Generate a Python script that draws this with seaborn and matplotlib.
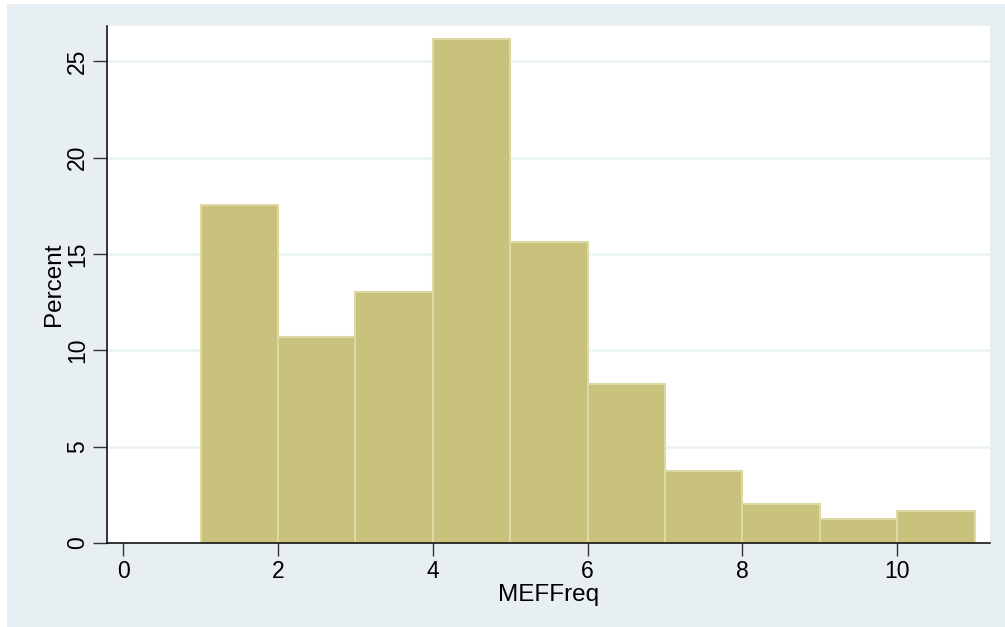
import numpy as np
import pandas as pd
import matplotlib
matplotlib.use("Agg")
import matplotlib.pyplot as plt
import seaborn as sns

# Data
bin_edges = [1, 2, 3, 4, 5, 6, 7, 8, 9, 10, 11]
percents = [17.54, 10.71, 13.03, 26.14, 15.62, 8.25, 3.75, 2.01, 1.23, 1.66]
x_ticks = [0, 2, 4, 6, 8, 10]
y_ticks = [0, 5, 10, 15, 20, 25]

bin_mid = [(a + b) / 2 for a, b in zip(bin_edges[:-1], bin_edges[1:])]
df = pd.DataFrame({"MEFFreq": bin_mid, "pct": percents})

sns.set_theme(style="white")
plt.rcParams["font.family"] = ["Liberation Sans", "DejaVu Sans"]
plt.rcParams["text.color"] = "black"
plt.rcParams["axes.labelcolor"] = "black"
plt.rcParams["xtick.color"] = "black"
plt.rcParams["ytick.color"] = "black"

W, H = 1005, 627
fig = plt.figure(figsize=(W / 100, H / 100), dpi=100)
fig.patch.set_facecolor("white")
# light outer panel
bg = plt.Rectangle((7 / W, -0.01), 1 - 7 / W + 0.01, 1 - 4 / H + 0.01,
                   transform=fig.transFigure,
                   facecolor="#E8EFF2", edgecolor="none", zorder=-10)
fig.patches.append(bg)

ax = fig.add_axes([107 / W, 1 - 543 / H, (990 - 107) / W, (543 - 26) / H])
ax.set_facecolor("white")

sns.histplot(data=df, x="MEFFreq", weights="pct", bins=bin_edges, ax=ax,
             color="#C9C27C", alpha=1.0, edgecolor="#DDD9A6", linewidth=1.5,
             zorder=3)

ax.set_xlim(-0.21, 11.2)
ax.set_ylim(0, 26.83)
ax.set_xticks(x_ticks)
ax.set_yticks(y_ticks)
ax.set_yticklabels([str(v) for v in y_ticks], rotation=90, va="center")

for v in y_ticks[1:]:
    ax.axhline(v, color="#EAF2F3", linewidth=1.8, zorder=1)

for s in ["top", "right"]:
    ax.spines[s].set_visible(False)
for s in ["left", "bottom"]:
    ax.spines[s].set_visible(True)
    ax.spines[s].set_color("black")
    ax.spines[s].set_linewidth(1.1)
    ax.spines[s].set_zorder(5)

ax.tick_params(axis="y", which="major", direction="out", length=10, width=1.0,
               color="#333333", labelsize=16.5, pad=3, left=True,
               labelcolor="black")
ax.tick_params(axis="x", which="major", direction="out", length=9, width=1.0,
               color="#333333", labelsize=16.5, pad=3, bottom=True,
               labelcolor="black")

ax.set_xlabel("MEFFreq", fontsize=17.5, labelpad=1)
ax.set_ylabel("Percent", fontsize=17.5, labelpad=1)

fig.savefig("out.png", dpi=100, facecolor=fig.get_facecolor())
